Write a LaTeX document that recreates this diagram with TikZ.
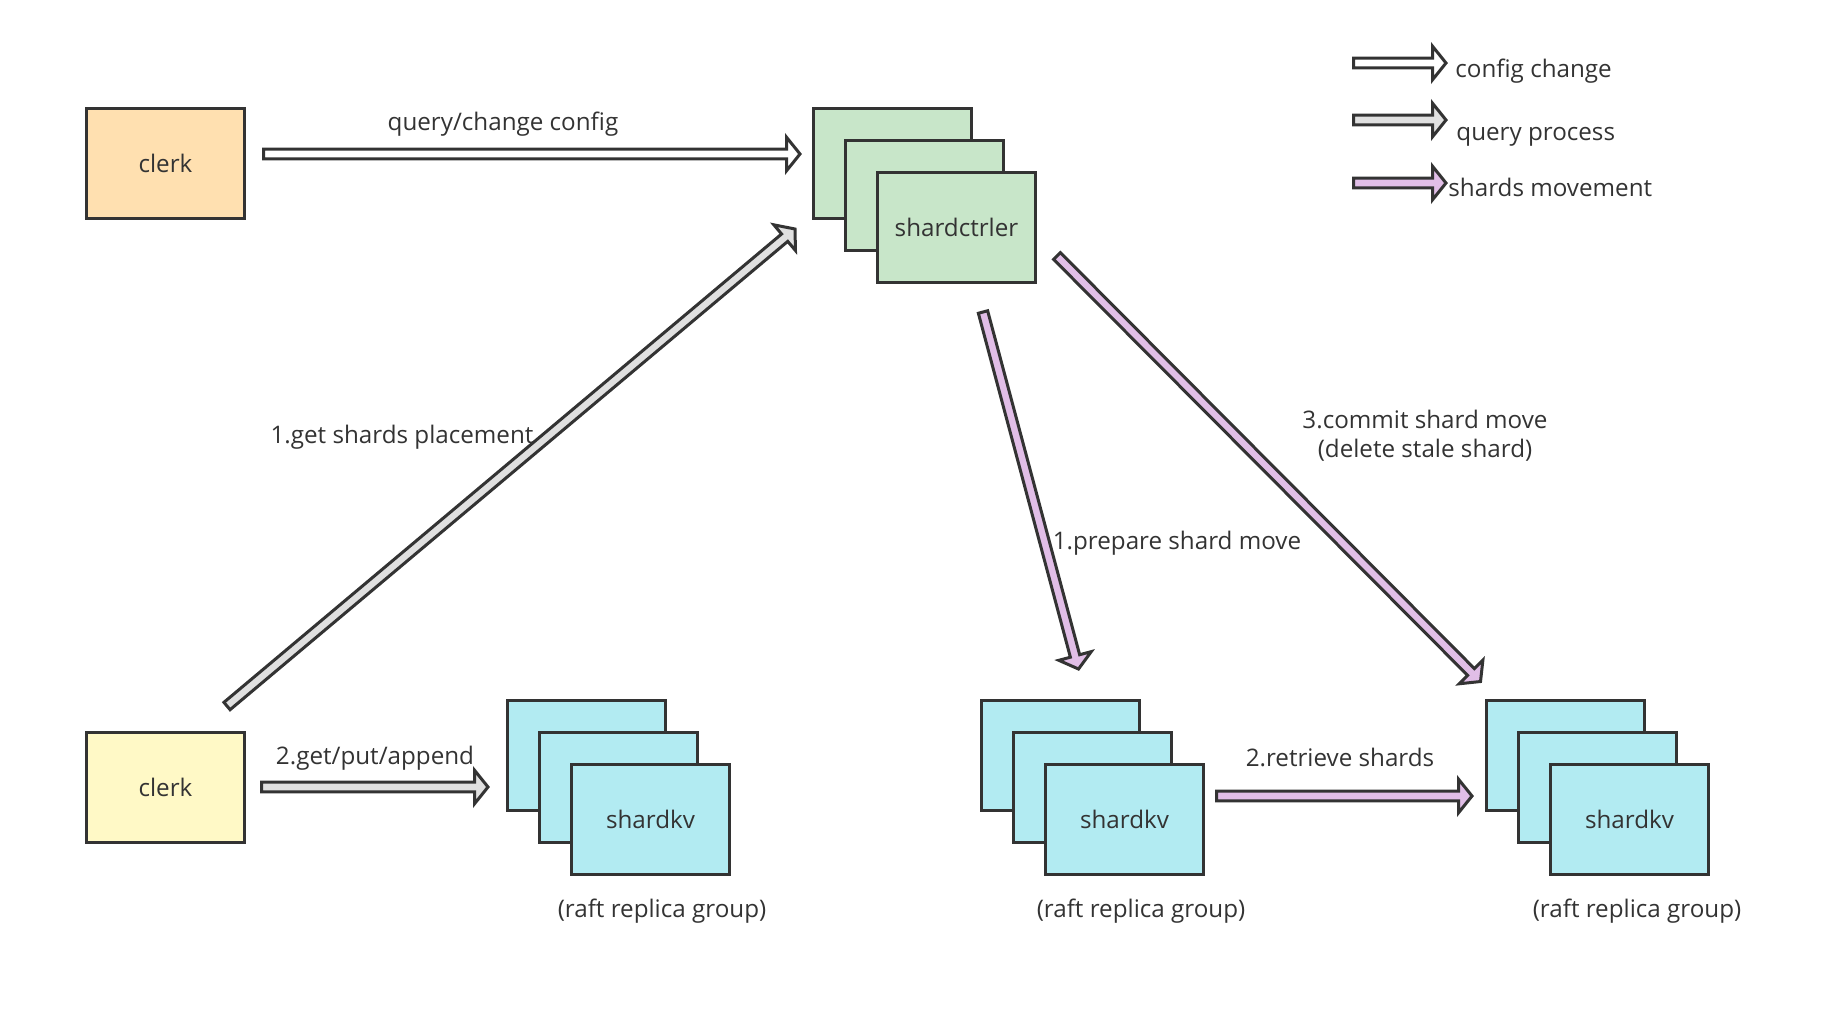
\documentclass[tikz,border=0pt]{standalone}
\usepackage{fontspec}
\setmainfont{Open Sans}
\usetikzlibrary{calc}

\definecolor{edgegray}{HTML}{333333}
\definecolor{clerkorange}{HTML}{FFE0B0}
\definecolor{clerkyellow}{HTML}{FFF9C6}
\definecolor{ctrlgreen}{HTML}{C8E6C9}
\definecolor{kvcyan}{HTML}{B2EBF2}
\definecolor{querygray}{HTML}{E0E0E0}
\definecolor{movepurple}{HTML}{E1BEE7}

% block arrow: #1 fill, #2 tail, #3 tip
\newcommand{\blockarrow}[3]{%
  \path (#2) coordinate (ba-s) (#3) coordinate (ba-t);%
  \path ($(ba-t)!6.75pt!(ba-s)$) coordinate (ba-h);%
  \draw [arrowline, fill=#1]
    ($(ba-s)!2.4pt!90:(ba-t)$) -- ($(ba-h)!2.4pt!90:(ba-t)$) --
    ($(ba-h)!8.4pt!90:(ba-t)$) -- (ba-t) --
    ($(ba-h)!8.4pt!-90:(ba-t)$) -- ($(ba-h)!2.4pt!-90:(ba-t)$) --
    ($(ba-s)!2.4pt!-90:(ba-t)$) -- cycle;%
}

\tikzset{
  box/.style={draw=edgegray, line width=1.5pt, minimum width=79pt,
    minimum height=55pt, inner sep=0pt, text=edgegray},
  clerkbox/.style={box},
  ctrlbox/.style={box, fill=ctrlgreen},
  kvbox/.style={box, fill=kvcyan},
  arrowline/.style={draw=edgegray, line width=1.5pt, line join=miter},
  lbl/.style={text=edgegray, inner sep=0pt},
}

\begin{document}
\begin{tikzpicture}[x=0.5pt,y=-0.5pt]
  \useasboundingbox (0,0) rectangle (1846,1030);
  {\fontsize{12.1}{14.5}\selectfont

  % Drawing clerks
  \node [clerkbox, fill=clerkorange] (clerk-top) at (165.5,163) {clerk};
  \node [clerkbox, fill=clerkyellow] (clerk-bot) at (165.5,787) {clerk};

  % Drawing shardctrler stack
  \node [ctrlbox] (ctrl-1) at (892.5,163) {};
  \node [ctrlbox] (ctrl-2) at (924.5,195) {};
  \node [ctrlbox] (ctrl-3) at (956.5,227) {shardctrler};

  % Drawing shardkv group A
  \node [kvbox] (kva-1) at (586.5,755.5) {};
  \node [kvbox] (kva-2) at (618.5,787.5) {};
  \node [kvbox] (kva-3) at (650.5,819.5) {shardkv};

  % Drawing shardkv group B
  \node [kvbox] (kvb-1) at (1060.5,755.5) {};
  \node [kvbox] (kvb-2) at (1092.5,787.5) {};
  \node [kvbox] (kvb-3) at (1124.5,819.5) {shardkv};

  % Drawing shardkv group C
  \node [kvbox] (kvc-1) at (1565.5,755.5) {};
  \node [kvbox] (kvc-2) at (1597.5,787.5) {};
  \node [kvbox] (kvc-3) at (1629.5,819.5) {shardkv};

  % Arrow ends
  \coordinate (cfg-s) at (263.5,154);
  \coordinate (cfg-t) at (800,154);
  \coordinate (place-s) at (227,706);
  \coordinate (place-t) at (795,229);
  \coordinate (prep-s) at (983,312);
  \coordinate (prep-t) at (1078.5,669);
  \coordinate (commit-s) at (1057,256);
  \coordinate (commit-t) at (1480.5,681.5);
  \coordinate (gpa-s) at (261.5,787);
  \coordinate (gpa-t) at (488,787);
  \coordinate (retr-s) at (1216.5,796);
  \coordinate (retr-t) at (1472,796);

  % Drawing arrows
  \blockarrow{white}{cfg-s}{cfg-t}
  \blockarrow{querygray}{place-s}{place-t}
  \blockarrow{movepurple}{prep-s}{prep-t}
  \blockarrow{movepurple}{commit-s}{commit-t}
  \blockarrow{querygray}{gpa-s}{gpa-t}
  \blockarrow{movepurple}{retr-s}{retr-t}

  % Marking arrow labels
  \node [lbl] (lbl-cfg) at (503,124) {query/change config};
  \node [lbl] (lbl-place) at (402,437) {1.get shards placement};
  \node [lbl] (lbl-prep) at (1177,543) {1.prepare shard move};
  \node [lbl, align=center] (lbl-commit) at (1425,436)
    {3.commit shard move\\(delete stale shard)};
  \node [lbl] (lbl-gpa) at (375,758) {2.get/put/append};
  \node [lbl] (lbl-retr) at (1340,757) {2.retrieve shards};

  % Marking group labels
  \node [lbl] (grp-a) at (662,911) {(raft replica group)};
  \node [lbl] (grp-b) at (1141,911) {(raft replica group)};
  \node [lbl] (grp-c) at (1637,911) {(raft replica group)};

  % Drawing legend
  \coordinate (leg1-s) at (1353.5,63);
  \coordinate (leg1-t) at (1446,63);
  \coordinate (leg2-s) at (1353.5,120);
  \coordinate (leg2-t) at (1446,120);
  \coordinate (leg3-s) at (1353.5,183);
  \coordinate (leg3-t) at (1446,183);
  \blockarrow{white}{leg1-s}{leg1-t}
  \blockarrow{querygray}{leg2-s}{leg2-t}
  \blockarrow{movepurple}{leg3-s}{leg3-t}
  \node [lbl, anchor=base west] (leg1) at (1455,77) {config change};
  \node [lbl, anchor=base west] (leg2) at (1456,140) {query process};
  \node [lbl, anchor=base west] (leg3) at (1448,196) {shards movement};
  }
\end{tikzpicture}
\end{document}
